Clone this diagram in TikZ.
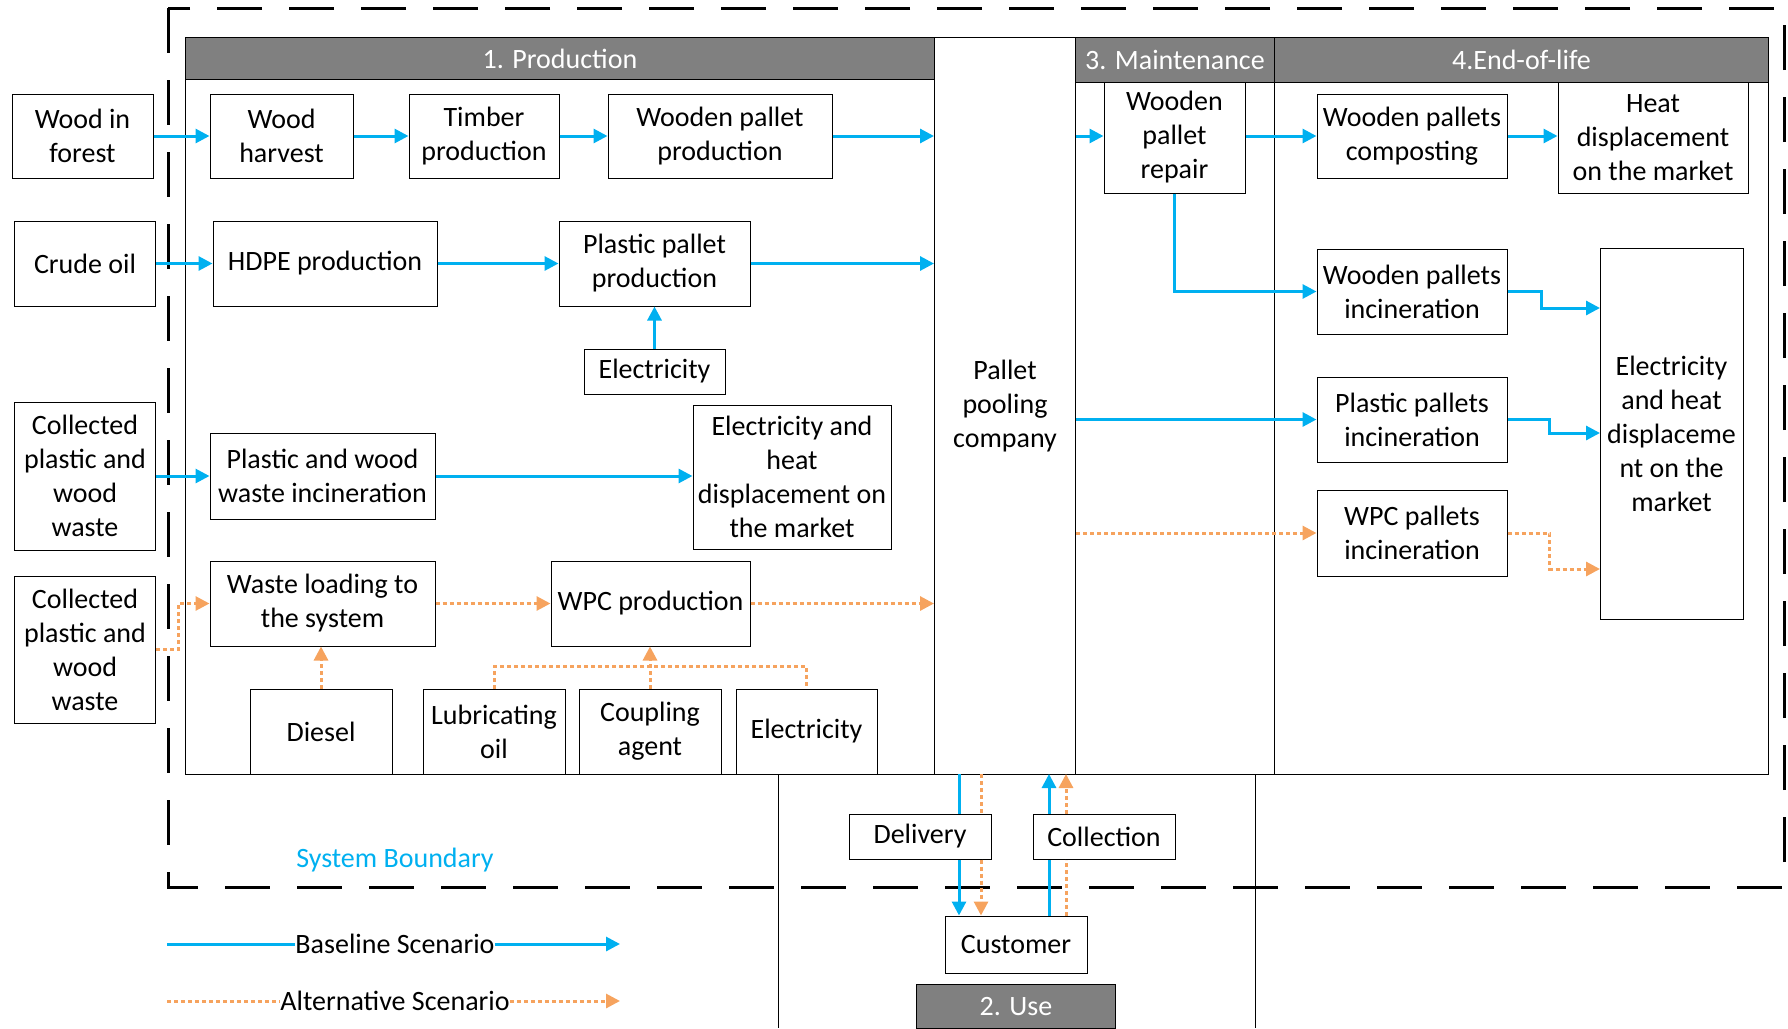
\documentclass[tikz,border=0pt]{standalone}
\usepackage{fontspec}
\setmainfont{Carlito}
\usetikzlibrary{arrows.meta}
\definecolor{baseblue}{RGB}{0,176,240}
\definecolor{altorange}{RGB}{246,163,94}
\definecolor{hdrgray}{RGB}{128,128,128}

\begin{document}
\begin{tikzpicture}[x=1pt,y=-1pt,
		every node/.style={font=\fontsize{28}{34}\selectfont, inner sep=0pt},
		box/.style={draw, line width=1pt, fill=white, align=center},
		hdr/.style={draw, line width=1pt, fill=hdrgray, text=white, anchor=north west},
		base/.style={draw=baseblue, line width=3pt, -{Triangle[length=14pt,width=14pt]}},
		alt/.style={draw=altorange, line width=3pt, dash pattern=on 4pt off 3pt, -{Triangle[length=14pt,width=14pt]}}]
		\useasboundingbox (0,0) rectangle (1788,1028);
		% stage frames
		\draw [line width=1pt] (185,37) rectangle (934,774);
		\draw [line width=1pt] (1075,37) rectangle (1274,774);
		\draw [line width=1pt] (1274,37) rectangle (1768,774);
		\draw [line width=1pt] (778,774) -- (778,1028);
		\draw [line width=1pt] (1255,774) -- (1255,1028);
		\node [hdr, minimum width=749, minimum height=42] (prodhdr) at (185,37) {1. Production};
		\node [hdr, minimum width=199, minimum height=45] (mainthdr) at (1075,37) {3. Maintenance};
		\node [hdr, minimum width=494, minimum height=45] (eolhdr) at (1274,37) {4.End-of-life};
		\node [box, minimum width=141, minimum height=737, anchor=north west] (pool) at (934,37) {Pallet\\pooling\\company};
		% system boundary
		\draw [line width=3pt, dash pattern=on 45pt off 27pt] (168,8) rectangle (1784,887);
		\node [text=baseblue] (sysb) at (395,860) {System Boundary};
		% production
		\node [box, minimum width=141, minimum height=84] (forest) at (82.5,136) {Wood in\\forest};
		\node [box, minimum width=143, minimum height=84] (harvest) at (281.5,136) {Wood\\harvest};
		\node [box, minimum width=150, minimum height=84] (timber) at (484,136) {Timber\\production};
		\node [box, minimum width=224, minimum height=84] (wpprod) at (720,136) {Wooden pallet\\production};
		\node [box, minimum width=141, minimum height=85] (crude) at (85,263.5) {Crude oil};
		\node [box, minimum width=224, minimum height=85] (hdpe) at (325,263.5) {HDPE production};
		\node [box, minimum width=191, minimum height=85] (ppprod) at (654.5,263.5) {Plastic pallet\\production};
		\node [box, minimum width=141, minimum height=45] (elec1) at (654.5,371.5) {Electricity};
		\node [box, minimum width=141, minimum height=148] (coll1) at (85,476) {Collected\\plastic and\\wood\\waste};
		\node [box, minimum width=225, minimum height=86] (pwinc) at (322.5,476) {Plastic and wood\\waste incineration};
		\node [box, minimum width=198, minimum height=144] (ehd) at (792,477) {Electricity and\\heat\\displacement on\\the market};
		\node [box, minimum width=141, minimum height=147] (coll2) at (85,649.5) {Collected\\plastic and\\wood\\waste};
		\node [box, minimum width=225, minimum height=85] (wload) at (322.5,603.5) {Waste loading to\\the system};
		\node [box, minimum width=199, minimum height=85] (wpc) at (650.5,603.5) {WPC production};
		\node [box, minimum width=142, minimum height=85] (diesel) at (321,731.5) {Diesel};
		\node [box, minimum width=142, minimum height=85] (lub) at (494,731.5) {Lubricating\\oil};
		\node [box, minimum width=142, minimum height=85] (coupling) at (650,731.5) {Coupling\\agent};
		\node [box, minimum width=141, minimum height=85] (elec2) at (806.5,731.5) {Electricity};
		% maintenance and end-of-life
		\node [box, minimum width=141, minimum height=111] (repair) at (1174.5,137.5) {Wooden\\pallet\\repair};
		\node [box, minimum width=190, minimum height=84] (compost) at (1412,136) {Wooden pallets\\composting};
		\node [box, minimum width=190, minimum height=111] (heat) at (1653,137.5) {Heat\\displacement\\on the market};
		\node [box, minimum width=190, minimum height=85] (wincin) at (1412,291.5) {Wooden pallets\\incineration};
		\node [box, minimum width=190, minimum height=85] (pincin) at (1412,419.5) {Plastic pallets\\incineration};
		\node [box, minimum width=190, minimum height=86] (wpcincin) at (1412,533) {WPC pallets\\incineration};
		\node [box, minimum width=143, minimum height=371] (elechd) at (1671.5,433.5) {Electricity\\and heat\\displaceme\\nt on the\\market};
		\coordinate (in1) at (1600,308);
		\coordinate (in2) at (1600,433);
		\coordinate (in3) at (1600,569);
		% use
		\node [box, minimum width=142, minimum height=45] (delivery) at (920,836.5) {Delivery};
		\node [box, minimum width=142, minimum height=45] (collection) at (1104,836.5) {Collection};
		\node [box, minimum width=142, minimum height=57] (customer) at (1016,944.5) {Customer};
		\node [hdr, minimum width=199, minimum height=44] (usehdr) at (916,984) {2. Use};
		\coordinate (dl) at (959,774);
		\coordinate (da) at (981,774);
		\coordinate (cl) at (1049,774);
		\coordinate (ca) at (1066,774);
		% baseline flows
		\draw [base] (forest) -- (harvest);
		\draw [base] (harvest) -- (timber);
		\draw [base] (timber) -- (wpprod);
		\draw [base] (wpprod) -- (wpprod -| pool.west);
		\draw [base] (crude) -- (hdpe);
		\draw [base] (hdpe) -- (ppprod);
		\draw [base] (ppprod) -- (ppprod -| pool.west);
		\draw [base] (elec1) -- (ppprod);
		\draw [base] (coll1) -- (pwinc);
		\draw [base] (pwinc) -- (pwinc -| ehd.west);
		\draw [base] (pool.east |- compost) -- (repair.west |- compost);
		\draw [base] (repair.east |- compost) -- (compost);
		\draw [base] (compost) -- (heat.west |- compost);
		\draw [base] (repair.south) |- (wincin);
		\draw [base] (wincin.east) -- ++(34,0) |- (in1);
		\draw [base] (pool.east |- pincin) -- (pincin);
		\draw [base] (pincin.east) -- ++(42,0) |- (in2);
		\draw [base, -] (dl) -- (dl |- delivery.north);
		\draw [base] (dl |- delivery.south) -- (dl |- customer.north);
		\draw [base, -] (cl |- customer.north) -- (cl |- collection.south);
		\draw [base] (cl |- collection.north) -- (cl);
		% alternative flows
		\draw [alt] (coll2.east) -- ++(22,0) |- (wload);
		\draw [alt] (wload) -- (wpc);
		\draw [alt] (wpc) -- (wpc -| pool.west);
		\draw [alt] (diesel.north) -- (diesel.north |- wload.south);
		\draw [alt, -] (lub.north) -- ++(0,-22) -| (elec2.north);
		\draw [alt] (coupling.north) -- (coupling.north |- wpc.south);
		\draw [alt] (pool.east |- wpcincin) -- (wpcincin);
		\draw [alt] (wpcincin.east) -- ++(42,0) |- (in3);
		\draw [alt, -] (da) -- (da |- delivery.north);
		\draw [alt] (da |- delivery.south) -- (da |- customer.north);
		\draw [alt, -] (ca |- customer.north) -- (ca |- collection.south);
		\draw [alt] (ca |- collection.north) -- (ca);
		% legend
		\coordinate (bl0) at (167,944);
		\coordinate (bl1) at (620,944);
		\coordinate (al0) at (167,1001);
		\coordinate (al1) at (620,1001);
		\node (bltxt) at (395,944) {Baseline Scenario};
		\node (altxt) at (395,1001) {Alternative Scenario};
		\draw [base, -] (bl0) -- (bltxt);
		\draw [base] (bltxt) -- (bl1);
		\draw [alt, -] (al0) -- (altxt);
		\draw [alt] (altxt) -- (al1);
	\end{tikzpicture}
\end{document}
